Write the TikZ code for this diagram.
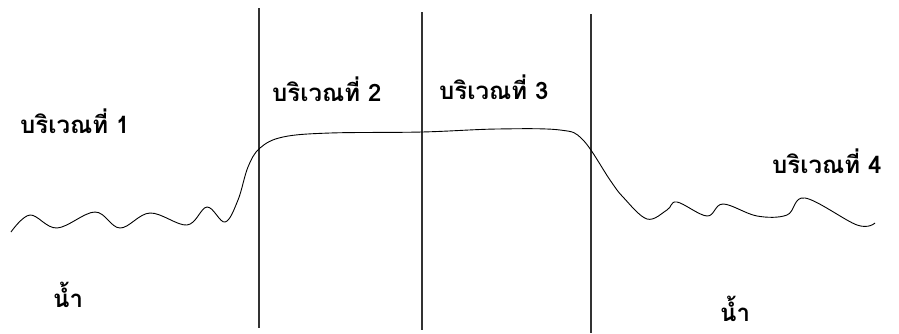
\documentclass[tikz,border=0pt]{standalone}
\usepackage{fontspec}
\newfontfamily\thaifont[Script=Thai]{Loma}
\begin{document}
\begin{tikzpicture}[x=1pt,y=-1pt,
  lbl/.style={font=\thaifont\bfseries\fontsize{24}{27}\selectfont, inner sep=0pt, text depth=0pt, anchor=base west},
  divider/.style={draw=black!80, line width=1.1pt},
  shore/.style={draw=black, line width=0.9pt}]
\useasboundingbox (0,0) rectangle (899,333);
% dividers
\coordinate (d1t) at (259,8);  \coordinate (d1b) at (259,328);
\coordinate (d2t) at (422,12); \coordinate (d2b) at (422,330);
\coordinate (d3t) at (591,14); \coordinate (d3b) at (591,333);
\draw[divider] (d1t) -- (d1b);
\draw[divider] (d2t) -- (d2b);
\draw[divider] (d3t) -- (d3b);
% profile
\draw[shore] plot[smooth, tension=0.6] coordinates {
 (11,232) (30,215) (57,228) (95,212) (120,228) (150,213) (187,225) (207,207) (225,222)
 (238,200) (248,167) (260,148) (283,137) (330,133) (422,132) (497,129) (560,130) (583,140)
 (610,180) (623,197) (647,219) (667,210) (677,202) (707,216) (723,204) (757,216) (787,215)
 (805,198) (857,225) (875,223)};
% labels
\node[lbl] (r1) at (20,133) {บริเวณที่ 1};
\node[lbl] (r2) at (272,101) {บริเวณที่ 2};
\node[lbl] (r3) at (439,99) {บริเวณที่ 3};
\node[lbl] (r4) at (772,173) {บริเวณที่ 4};
\node[lbl] (w1) at (53,307) {น้ำ};
\node[lbl] (w2) at (720,321) {น้ำ};
\end{tikzpicture}
\end{document}
